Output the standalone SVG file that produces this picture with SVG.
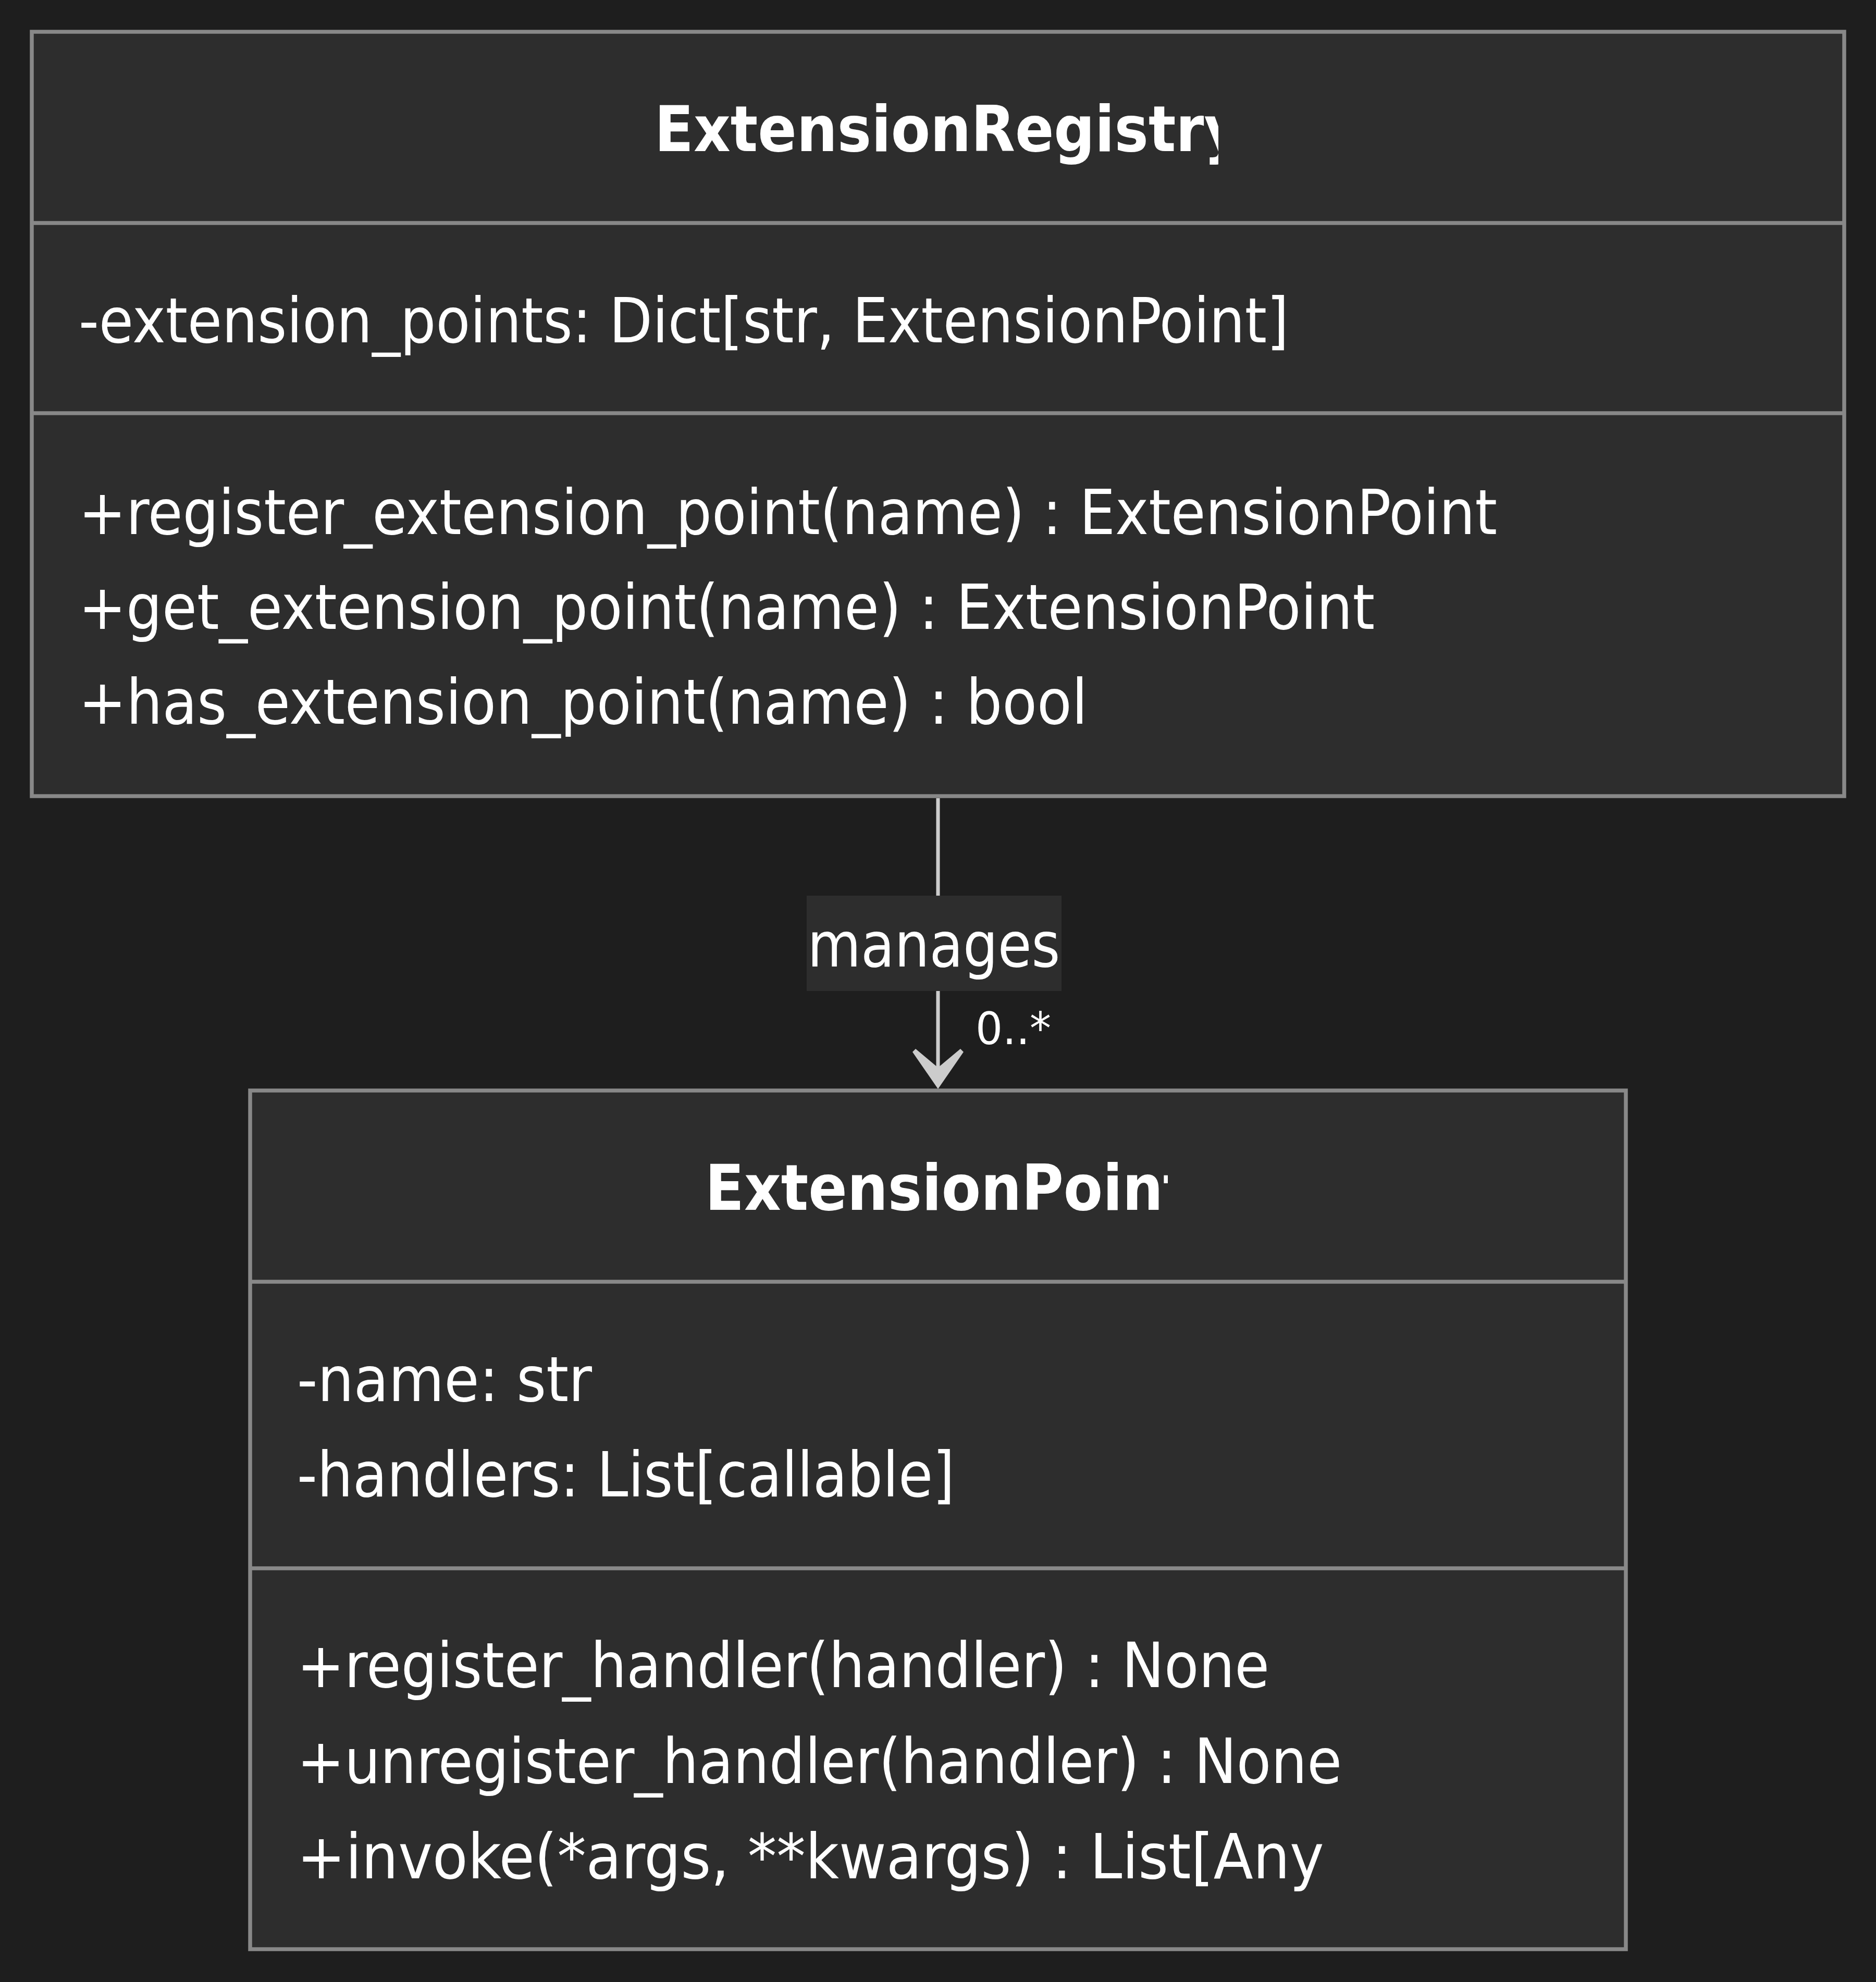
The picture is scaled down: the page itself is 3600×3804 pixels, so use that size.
<svg xmlns="http://www.w3.org/2000/svg" width="3600" height="3804" viewBox="0 0 3600 3804">
  <style>
    .box { fill: #2d2d2d; stroke: #888888; stroke-width: 7.5; }
    .div { stroke: #888888; stroke-width: 7.5; }
    .t { fill: #ffffff; font-family: 'DejaVu Sans Condensed', 'DejaVu Sans', sans-serif; font-stretch: condensed; font-size: 120px; }
    .title { fill: #ffffff; font-family: 'DejaVu Sans Condensed', 'DejaVu Sans', sans-serif; font-stretch: condensed; font-size: 122px; font-weight: bold; }
    .edge { stroke: #cccccc; stroke-width: 7; fill: none; }
    .head { fill: #cccccc; }
    .lbl { fill: #2d2d2d; }
  </style>
  <defs>
    <clipPath id="clipRegTitle"><rect x="1240" y="150" width="1098" height="220"/></clipPath>
    <clipPath id="clipPtTitle"><rect x="1340" y="2180" width="901" height="220"/></clipPath>
    <clipPath id="clipInvoke"><rect x="500" y="3480" width="2049" height="200"/></clipPath>
  </defs>
  <rect x="0" y="0" width="3600" height="3804" fill="#1e1e1e"/>

  <g id="connectors">
    <line class="edge" x1="1800" y1="1532" x2="1800" y2="2052"/>
    <path class="head" d="M1800,2090 L1751,2019 L1757,2013 L1800,2049 L1843,2013 L1849,2019 Z"/>
    <rect class="lbl" x="1548" y="1719" width="489" height="183"/>
    <text class="t" x="1792" y="1855" text-anchor="middle" textLength="485" lengthAdjust="spacingAndGlyphs">manages</text>
    <text class="t" x="1872" y="2004" style="font-size:86px" textLength="145" lengthAdjust="spacingAndGlyphs">0..*</text>
  </g>

  <g id="ExtensionRegistry">
    <rect class="box" x="61" y="61" width="3478" height="1467"/>
    <line class="div" x1="61" y1="428" x2="3539" y2="428"/>
    <line class="div" x1="61" y1="793" x2="3539" y2="793"/>
    <text class="title" x="1256" y="290" clip-path="url(#clipRegTitle)">ExtensionRegistry</text>
    <text class="t" x="151" y="657" textLength="2322" lengthAdjust="spacingAndGlyphs">-extension_points: Dict[str, ExtensionPoint]</text>
    <text class="t" x="151" y="1025" textLength="2722" lengthAdjust="spacingAndGlyphs">+register_extension_point(name) : ExtensionPoint</text>
    <text class="t" x="151" y="1207" textLength="2487" lengthAdjust="spacingAndGlyphs">+get_extension_point(name) : ExtensionPoint</text>
    <text class="t" x="151" y="1389" textLength="1936" lengthAdjust="spacingAndGlyphs">+has_extension_point(name) : bool</text>
  </g>

  <g id="ExtensionPoint">
    <rect class="box" x="480" y="2093" width="2640" height="1648"/>
    <line class="div" x1="480" y1="2460" x2="3120" y2="2460"/>
    <line class="div" x1="480" y1="3010" x2="3120" y2="3010"/>
    <text class="title" x="1353" y="2322" clip-path="url(#clipPtTitle)">ExtensionPoint</text>
    <text class="t" x="570" y="2689" textLength="566" lengthAdjust="spacingAndGlyphs">-name: str</text>
    <text class="t" x="570" y="2872" textLength="1262" lengthAdjust="spacingAndGlyphs">-handlers: List[callable]</text>
    <text class="t" x="570" y="3238" textLength="1866" lengthAdjust="spacingAndGlyphs">+register_handler(handler) : None</text>
    <text class="t" x="570" y="3422" textLength="2005" lengthAdjust="spacingAndGlyphs">+unregister_handler(handler) : None</text>
    <text class="t" x="570" y="3605" textLength="2014" lengthAdjust="spacingAndGlyphs" clip-path="url(#clipInvoke)">+invoke(*args, **kwargs) : List[Any]</text>
  </g>
</svg>
